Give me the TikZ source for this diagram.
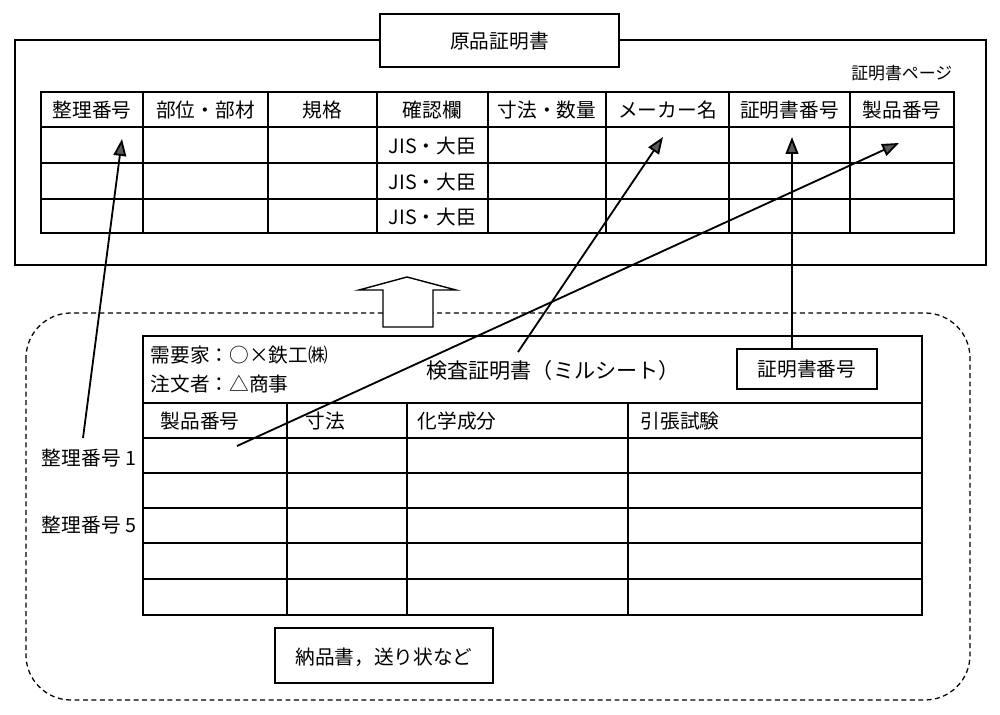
\documentclass[tikz,border=0pt]{standalone}
\usepackage{fontspec}
\setmainfont{Noto Sans CJK JP}
\usetikzlibrary{arrows.meta}
\begin{document}
\begin{tikzpicture}[x=0.025cm,y=-0.025cm,line width=1.1pt,
  lbl/.style={font=\fontsize{14}{16}\selectfont,inner sep=0},
  small/.style={font=\fontsize{12}{14}\selectfont,inner sep=0},
  big/.style={font=\fontsize{15}{18}\selectfont,inner sep=0},
  arr/.style={-{Triangle[length=12pt,width=9pt,fill=black!65]},line width=1.3pt},
  dashbox/.style={dash pattern=on 3.5pt off 2.5pt,line width=0.9pt,rounded corners=32pt}]
\useasboundingbox (0,0) rectangle (1000,715);
% --- top frame (original certificate)
\draw (15,40) rectangle (986,265);
\draw[fill=white] (380,14) rectangle (619,67);
\node[lbl] (title) at (499.5,41) {原品証明書};
\node[small,anchor=east] (page) at (953,73) {証明書ページ};
% top table
\draw (41,92) rectangle (954,233);
\foreach \y in {127,163,199} \draw (41,\y) -- (954,\y);
\foreach \x in {143,268,377,488,606,729,850} \draw (\x,92) -- (\x,233);
\node[lbl] (h1) at (92,110) {整理番号};
\node[lbl] (h2) at (205.5,110) {部位・部材};
\node[lbl] (h3) at (322.5,110) {規格};
\node[lbl] (h4) at (432.5,110) {確認欄};
\node[lbl] (h5) at (547,110) {寸法・数量};
\node[lbl] (h6) at (667.5,110) {メーカー名};
\node[lbl] (h7) at (789.5,110) {証明書番号};
\node[lbl] (h8) at (902,110) {製品番号};
\node[lbl] (j1) at (432.5,146) {JIS・大臣};
\node[lbl] (j2) at (432.5,182) {JIS・大臣};
\node[lbl] (j3) at (432.5,217) {JIS・大臣};
% --- dashed group
\draw[dashbox] (26,313) rectangle (970,700);
\draw[fill=white,line width=1pt] (383,327) -- (383,290) -- (359,290) -- (407,277) -- (456,290) -- (433,290) -- (433,327) -- cycle;
% bottom table (mill sheet)
\draw (143,336) rectangle (922,615);
\foreach \y in {403,438,473,508,543,579} \draw (143,\y) -- (922,\y);
\foreach \x in {287,407,628} \draw (\x,403) -- (\x,615);
\node[lbl,anchor=west] (cust) at (150,355) {需要家：○×鉄工㈱};
\node[lbl,anchor=west] (ord) at (150,384) {注文者：△商事};
\node[big] (mill) at (553,370) {検査証明書（ミルシート）};
\draw (737,349) rectangle (877,389);
\node[lbl] (certno) at (807,369) {証明書番号};
\node[lbl,anchor=west] (b1) at (160,421) {製品番号};
\node[lbl,anchor=west] (b2) at (305,421) {寸法};
\node[lbl,anchor=west] (b3) at (417,421) {化学成分};
\node[lbl,anchor=west] (b4) at (640,421) {引張試験};
\node[lbl] (n1) at (89,458) {整理番号 1};
\node[lbl] (n5) at (89,525) {整理番号 5};
\draw (275,628) rectangle (493,683);
\node[lbl] (deliv) at (384,657) {納品書，送り状など};
% connectors
\coordinate (s1) at (83,438);
\coordinate (t1) at (122,139);
\coordinate (s2) at (518,352);
\coordinate (t2) at (663,137);
\coordinate (s3) at (237,446);
\coordinate (t3) at (899,143);
\coordinate (s4) at (792,349);
\coordinate (t4) at (792,137);
\draw[arr] (s1) -- (t1);
\draw[arr] (s2) -- (t2);
\draw[arr] (s3) -- (t3);
\draw[arr] (s4) -- (t4);
\end{tikzpicture}
\end{document}
